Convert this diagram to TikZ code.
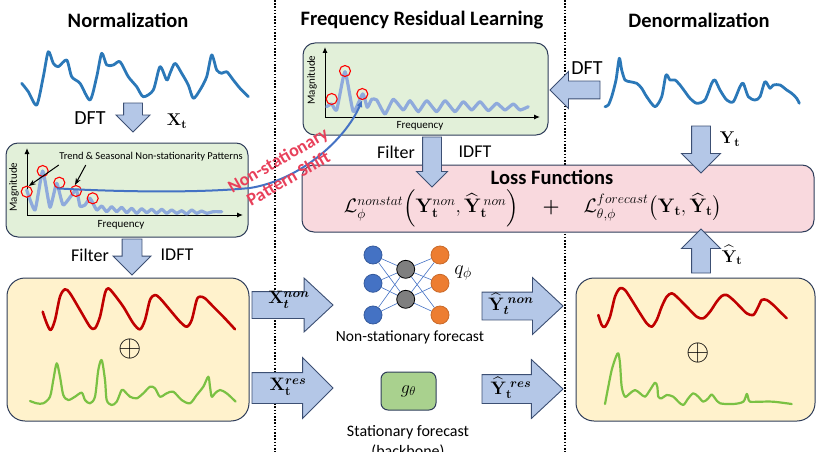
\RequirePackage{fix-cm}
\documentclass[tikz,border=0pt]{standalone}
\usepackage{amsmath}
\usepackage[no-math]{fontspec}
\setmainfont{Carlito}
\usetikzlibrary{shapes.arrows,arrows.meta}

\definecolor{boxline}{HTML}{2F3D5A}
\definecolor{specfill}{HTML}{E2F0D9}
\definecolor{lossfill}{HTML}{F9D9DE}
\definecolor{sigfill}{HTML}{FFF2CC}
\definecolor{gfill}{HTML}{A9D18E}
\definecolor{arrfill}{HTML}{B4C7E7}
\definecolor{arrline}{HTML}{3C4F73}
\definecolor{seriesblue}{HTML}{2B78B8}
\definecolor{speclight}{HTML}{8FAADC}
\definecolor{shiftblue}{HTML}{4472C4}
\definecolor{trendred}{HTML}{C00000}
\definecolor{resgreen}{HTML}{7AC143}
\definecolor{shiftred}{HTML}{E8405A}
\definecolor{nnblue}{HTML}{4472C4}
\definecolor{nngray}{HTML}{7F7F7F}
\definecolor{nnorange}{HTML}{ED7D31}

\begin{document}
\begin{tikzpicture}[x=1pt, y=-1pt,
    every node/.style={font=\fontsize{18}{21}\selectfont},
    title/.style={font=\fontsize{20.5}{24}\selectfont\bfseries},
    lbl/.style={font=\fontsize{20}{24}\selectfont},
    axlbl/.style={font=\fontsize{11}{13}\selectfont},
    mathlbl/.style={font=\fontsize{17}{20}\selectfont},
    divider/.style={dash pattern=on 1.6pt off 1.6pt, line width=1.6pt},
    series/.style={seriesblue, line width=2.8pt, line join=round, line cap=round},
    spec/.style={speclight, line width=3.2pt, line join=round, line cap=round},
    trendcurve/.style={trendred, line width=2.6pt, line join=round, line cap=round},
    rescurve/.style={resgreen, line width=2.2pt, line join=round, line cap=round},
    specbox/.style={draw=boxline, fill=specfill, line width=1pt, rounded corners=12pt},
    lossbox/.style={draw=boxline, fill=lossfill, line width=1pt, rounded corners=12pt},
    sigbox/.style={draw=boxline, fill=sigfill, line width=1pt, rounded corners=18pt},
    gbox/.style={draw=boxline, fill=gfill, line width=1pt, rounded corners=7pt},
    axis/.style={-{Latex[length=6pt,width=5pt]}, line width=1pt},
    pointer/.style={-{Stealth[length=7pt,width=5pt]}, line width=1pt},
    peak/.style={circle, draw=red, line width=1.1pt, minimum size=11pt, inner sep=0pt},
    blockarr/.style={single arrow, draw=arrline, fill=arrfill, line width=0.9pt,
        inner xsep=0pt, outer sep=0pt, anchor=tail, single arrow tip angle=90},
    neuron/.style={circle, minimum size=18pt, inner sep=0pt, line width=0.8pt},
    wire/.style={nnblue, line width=0.6pt},
    shiftlbl/.style={shiftred, font=\fontsize{18}{21}\selectfont\bfseries, align=center}
]
\useasboundingbox (0,0) rectangle (817,452);

% dividers
\draw[divider] (275,0) -- (275,452);
\draw[divider] (565,0) -- (565,452);

% titles
\node[title] (tNorm) at (128,20) {Normalization};
\node[title] (tFreq) at (422,20) {Frequency Residual Learning};
\node[title] (tDenorm) at (699,20) {Denormalization};

% input series
\draw[series] plot[smooth, tension=0.45] coordinates {(21.7,83.3) (28.3,91.7) (36.7,105) (43.3,76.7) (48.3,51.7) (53.3,63.3) (58.3,66.7) (66.7,60) (71.7,76.7) (80,83.3) (90,100) (96.7,76.7) (101.7,53.3) (106.7,65) (113.3,65) (120,61.7) (128.3,76.7) (136.7,86.7) (143.3,96.7) (153.3,90) (160,66.7) (166.7,80) (170,73.3) (175,63.3) (181.7,73.3) (188.3,85) (193.3,98.3) (200,90) (206.7,76.7) (211.7,55) (216.7,70) (221.7,73.3) (226.7,71.7) (233.3,80) (240,88.3) (248.3,96.7)};

% target series
\draw[series] plot[smooth, tension=0.45] coordinates {(605,106.7) (608.3,105) (611.7,96.7) (616,80) (619.3,58.3) (621.7,70) (625,80) (630,81.7) (636.7,83.3) (641.7,88.3) (646.7,96.7) (655,106.7) (661.7,96.7) (666,75) (670,80) (675,80) (680,85) (685,91.7) (690,98.3) (696.7,103.3) (705,100) (711.7,83.3) (715,80) (720,90) (726.7,100) (733.3,101.7) (740,86.7) (743.3,83.3) (748.3,96.7) (755,100) (760,96.7) (765,81.7) (770,88.3) (773.3,85) (780,85) (786.7,90) (791.7,93.3) (796.7,98.3) (799.3,103.3)};

% boxes
\node[specbox, minimum width=242pt, minimum height=94pt] (specL) at (127,190) {};
\node[specbox, minimum width=245pt, minimum height=92pt] (specM) at (425.5,89) {};
\node[lossbox, minimum width=512pt, minimum height=67pt] (loss) at (558,198.5) {};
\node[sigbox, minimum width=242pt, minimum height=143pt] (sigL) at (128,349.5) {};
\node[sigbox, minimum width=239pt, minimum height=143pt] (sigR) at (695.5,349.5) {};
\node[gbox, minimum width=55pt, minimum height=38pt] (gtheta) at (408.5,391) {$g_{\theta}$};

% spectrum of the input
\draw[axis] (27,215) -- (27,148);
\draw[axis] (27,215) -- (243,215);
\node[axlbl, rotate=90] (magL) at (14,187) {Magnitude};
\node[axlbl] (freqL) at (121,225) {Frequency};
\draw[spec] plot[smooth, tension=0.3] coordinates {(26.7,190) (35,210) (42.7,171) (50,207.3) (56.7,183.3) (63.3,205) (76,190) (80,206) (85,205) (90,198.3) (96.7,210) (101.7,206) (106.7,211.7) (111.7,206.7) (116.7,211.7) (121.7,207.3) (126.7,212.7) (131.7,208.3) (136.7,213.3) (141.7,208.7) (146.7,212.7) (151.7,209.3) (156.7,213.3) (161.7,209.3) (166.7,213.3) (171.7,210) (176.7,213.3) (181.7,210.7) (186.7,214) (191.7,210) (196.7,213.3) (201.7,211) (206.7,213.3) (213.3,211.7) (221.7,211.7)};
\node[peak] (pL1) at (26.7,191.7) {};
\node[peak] (pL2) at (42.7,171) {};
\node[peak] (pL3) at (59.3,182.7) {};
\node[peak] (pL4) at (76,191) {};
\node[peak] (pL5) at (92.7,198.3) {};
\node[font=\fontsize{10.5}{12}\selectfont] (trend) at (151,157) {Trend \& Seasonal Non-stationarity Patterns};
\draw[pointer] ([xshift=3pt]trend.south west) -- (pL1.70);
\draw[pointer] ([xshift=30pt]trend.south west) -- (pL4.100);

% spectrum of the target
\draw[axis] (325,117) -- (325,47);
\draw[axis] (325,117) -- (540,117);
\node[axlbl, rotate=90] (magM) at (312,80) {Magnitude};
\node[axlbl] (freqM) at (420,126) {Frequency};
\draw[spec] plot[smooth, tension=0.3] coordinates {(326.7,106.7) (331.7,104) (336.7,110) (345,71.7) (353.3,111.7) (362.7,94) (367.3,107.3) (371.7,99.3) (376.7,100) (385,114) (393.3,99.3) (403.3,110) (410,100.7) (418.3,111.7) (426.7,100.7) (436.7,111.7) (445,100.7) (455,111.7) (463.3,101.7) (471.7,110) (480,101.7) (488.3,110.7) (496.7,103.3) (505,110) (513.3,104) (520,110) (528.3,106.7)};
\node[peak] (pM1) at (331.7,99) {};
\node[peak] (pM2) at (345,71) {};
\node[peak] (pM3) at (362.3,94) {};

% decomposed input
\draw[trendcurve] plot[smooth, tension=0.5] coordinates {(42.7,311.7) (46.7,323.3) (50.7,330) (55,320) (60,296.7) (65,289.3) (70,293.3) (80,310) (90,326.7) (95,328.3) (100,316.7) (105,293.3) (108.3,288.3) (113.3,293.3) (123.3,306.7) (133.3,323.3) (140,329.3) (145,320) (150,300) (155,295) (160,298.3) (170,310) (180,321.7) (186.7,326.7) (191.7,320) (196.7,300) (200,296.7) (205,298.3) (213.3,306.7) (223.3,316.7) (235,329.3)};
\node[font=\fontsize{30}{34}\selectfont] (sumL) at (130,349) {$\oplus$};
\draw[rescurve] plot[smooth, tension=0.5] coordinates {(30,401) (36.7,403.3) (43.3,403.3) (50,396.7) (53.3,380) (56.7,363.3) (60,376.7) (63.3,395) (68.3,400) (75,396.7) (81.7,392.7) (85,400) (90,403.3) (95,396.7) (98.3,370) (101.7,360) (105,380) (106.7,400) (111.7,405) (116.7,401.7) (121.7,390) (125,391.7) (130,396.7) (136.7,398.3) (143.3,393.3) (150,386.7) (155,388.3) (160,396.7) (166.7,393.3) (173.3,391.7) (181.7,400) (190,403.3) (196.7,395) (203.3,386.7) (208.3,376.7) (210,386.7) (211.7,396.7) (215,393.3) (220,390) (226.7,393.3) (235.7,401.7)};

% decomposed forecast
\draw[trendcurve] plot[smooth, tension=0.5] coordinates {(598.3,315) (601.7,325) (605,326.7) (610,316.7) (615,296.7) (620,288.3) (625,290) (631.7,300) (640,313.3) (646.7,323.3) (651.7,326.7) (656.7,320) (661.7,306.7) (666.7,296.7) (671.7,293.3) (676.7,296.7) (686.7,306.7) (696.7,316.7) (703.3,318.3) (710,311.7) (716.7,301.7) (721.7,296) (726.7,295) (733.3,300) (740,306.7) (746.7,313.3) (753.3,315) (758.3,306.7) (761.7,300) (766.7,300) (773.3,305) (780,311.7) (786.7,318.3)};
\node[font=\fontsize{30}{34}\selectfont] (sumR) at (698,353) {$\oplus$};
\draw[rescurve] plot[smooth, tension=0.5] coordinates {(605,404) (608.3,386.7) (611.7,370) (616,356.7) (618.3,353.3) (620,363.3) (621.7,386.7) (625,396.7) (630,393.3) (635,390) (640,393.3) (645,396.7) (650,390) (655,382.7) (657.3,386.7) (658.3,396.7) (661.7,398.3) (666.7,395) (673.3,396.7) (678.3,401.7) (683.3,405) (688.3,398.3) (693.3,393.3) (698.3,396.7) (703.3,401.7) (708.3,398.3) (711.7,394.3) (715,398.3) (720,403.3) (733.3,404) (743.3,401.7) (746.7,394) (748.3,398.3) (750,401.7) (760,401.7) (773.3,401.7) (791.7,404)};

% loss
\node[title] (lossT) at (552,177) {Loss Functions};
\node[font=\fontsize{19.5}{23}\selectfont] (lossF) at (533,208) {$\mathcal{L}_{\phi}^{nonstat}\Big(\mathbf{Y}_{\mathbf{t}}^{non},\widehat{\mathbf{Y}}_{\mathbf{t}}^{\,non}\Big)\quad\boldsymbol{+}\quad\mathcal{L}_{\theta,\phi}^{forecast}\big(\mathbf{Y}_{\mathbf{t}},\widehat{\mathbf{Y}}_{\mathbf{t}}\big)$};

% non-stationary network
\foreach \i/\y in {1/255,2/283.3,3/315} {
    \node[neuron, fill=nnblue, draw=nnblue!80!black] (nb\i) at (373,\y) {};
    \node[neuron, fill=nnorange, draw=nnorange!85!black] (no\i) at (440,\y) {};
}
\node[neuron, fill=nngray, draw=black] (ng1) at (405.7,269.3) {};
\node[neuron, fill=nngray, draw=black] (ng2) at (405.7,299.3) {};
\foreach \i in {1,2,3}
    \foreach \j in {1,2} {
        \draw[wire] (nb\i) -- (ng\j);
        \draw[wire] (ng\j) -- (no\i);
    }
\node[font=\fontsize{20}{24}\selectfont] (qphi) at (463,273) {$q_{\phi}$};
\node[font=\fontsize{15.5}{18}\selectfont] (nsf) at (410,337) {Non-stationary forecast};
\node[font=\fontsize{16}{20}\selectfont, align=center, anchor=north] (sf) at (408,422) {Stationary forecast\\(backbone)};

% block arrows
\node[blockarr, rotate=-90, minimum height=29pt, inner ysep=9pt, single arrow head extend=7.5pt] (dftL) at (133,103) {};
\node[lbl] at (90,118) {DFT};
\node[mathlbl] at (177,121) {$\mathbf{X}_{\mathbf{t}}$};
\node[blockarr, rotate=-90, minimum height=36pt, inner ysep=9.5pt, single arrow head extend=9pt] (idftL) at (132,239) {};
\node at (90,255) {Filter};
\node at (177,255) {IDFT};
\node[blockarr, rotate=-90, minimum height=50pt, inner ysep=9pt, single arrow head extend=6pt] (idftM) at (432,137) {};
\node at (396,152) {Filter};
\node at (475,152) {IDFT};
\node[blockarr, rotate=180, minimum height=50pt, inner ysep=8.5pt, single arrow head extend=9.5pt] (dftR) at (600,90) {};
\node[lbl] at (587,68) {DFT};
\node[blockarr, rotate=-90, minimum height=47pt, inner ysep=9pt, single arrow head extend=10pt] (yin) at (701,126) {};
\node[mathlbl] at (730,139) {$\mathbf{Y}_{\mathbf{t}}$};
\node[blockarr, rotate=90, minimum height=44pt, inner ysep=9pt, single arrow head extend=10pt] (yout) at (701,273) {};
\node[mathlbl] at (732,255) {$\widehat{\mathbf{Y}}_{\mathbf{t}}$};
\node[blockarr, single arrow tip angle=86, minimum height=81pt, inner ysep=13pt, single arrow head extend=13.5pt] (xnon) at (252,305) {};
\node[font=\fontsize{18}{21}\selectfont] at (289,300) {$\mathbf{X}_{\boldsymbol{t}}^{\boldsymbol{non}}$};
\node[blockarr, minimum height=81pt, inner ysep=15pt, single arrow head extend=15pt] (xres) at (252,388) {};
\node[font=\fontsize{18}{21}\selectfont] at (288,387) {$\mathbf{X}_{\mathbf{t}}^{\boldsymbol{res}}$};
\node[blockarr, single arrow tip angle=86, minimum height=81pt, inner ysep=13.5pt, single arrow head extend=14.5pt] (ynon) at (482,306) {};
\node[font=\fontsize{18}{21}\selectfont] at (511,304) {$\widehat{\mathbf{Y}}_{\boldsymbol{t}}^{\;\boldsymbol{non}}$};
\node[blockarr, single arrow tip angle=86, minimum height=81pt, inner ysep=14pt, single arrow head extend=15pt] (yres) at (482,389) {};
\node[font=\fontsize{18}{21}\selectfont] at (511,388) {$\widehat{\mathbf{Y}}_{\mathbf{t}}^{\;\boldsymbol{res}}$};

% pattern shift
\draw[shiftblue, line width=2pt, -{Latex[length=7pt,width=6pt]}] (pL3.250) .. controls (120,192) and (200,193) .. (250,188) .. controls (300,180) and (345,140) .. (pM3.south);
\node[shiftlbl, rotate=30] (pshift) at (283,169) {Non-stationary\\Pattern Shift};
\end{tikzpicture}
\end{document}
